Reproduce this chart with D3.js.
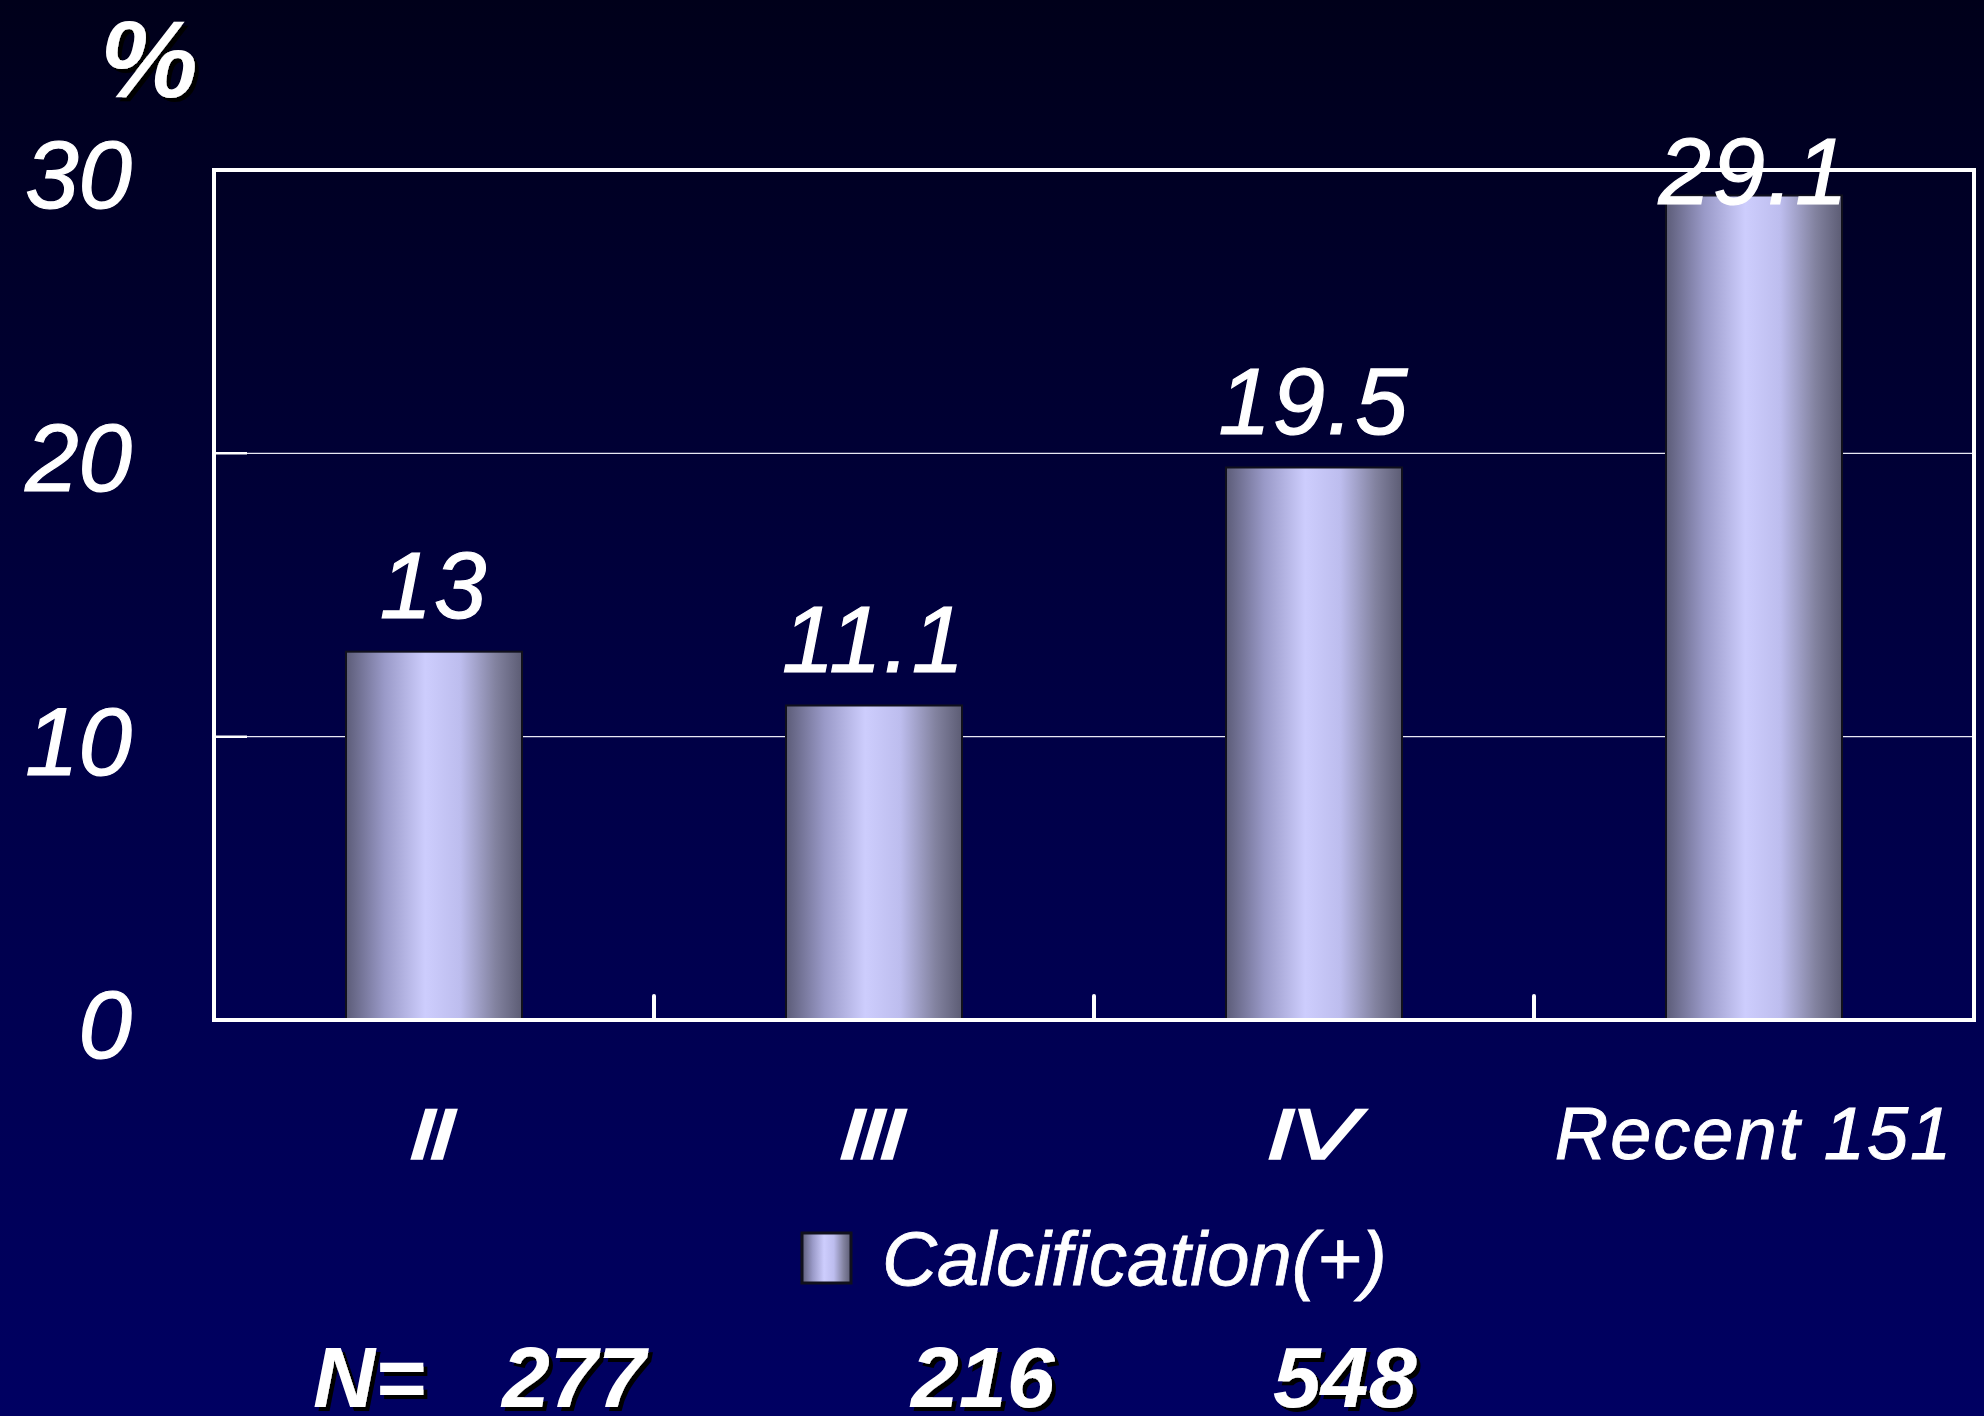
<!DOCTYPE html>
<html lang="ja">
<head>
<meta charset="UTF-8">
<title>Calcification(+)</title>
<script src="https://cdn.jsdelivr.net/npm/d3@7/dist/d3.min.js"></script>
<style>
  html, body { margin: 0; padding: 0; background: #000040; }
  svg { display: block; }
  text { font-family: "Liberation Sans", Arial, sans-serif; fill: #fff; }
</style>
</head>
<body>
<div id="chart"></div>
<script>
// data
const categories = ["Ⅱ", "Ⅲ", "Ⅳ", "Recent 151"];
const calcification = [13, 11.1, 19.5, 29.1];
const yTicks = [0, 10, 20, 30];
const nLabels = ["N=", "277", "216", "548"];
const seriesName = "Calcification(+)";

const width = 1984, height = 1416;
const plot = { left: 214, right: 1974, top: 170, bottom: 1020 };

const svg = d3.select("#chart").append("svg")
  .attr("width", width).attr("height", height);

const defs = svg.append("defs");

// page background
const bg = defs.append("linearGradient").attr("id", "bg")
  .attr("x1", 0).attr("y1", 0).attr("x2", 0).attr("y2", 1);
bg.append("stop").attr("offset", "0%").attr("stop-color", "#00001a");
bg.append("stop").attr("offset", "55%").attr("stop-color", "#000048");
bg.append("stop").attr("offset", "100%").attr("stop-color", "#000062");

// cylinder-ish bar fill
const barGrad = defs.append("linearGradient").attr("id", "barGrad")
  .attr("x1", 0).attr("y1", 0).attr("x2", 1).attr("y2", 0);
[["0%", "#5c5c78"], ["22%", "#9a9ac8"], ["45%", "#cdcdfd"], ["65%", "#bdbdee"],
 ["85%", "#82829f"], ["100%", "#5c5c74"]].forEach(([o, c]) =>
  barGrad.append("stop").attr("offset", o).attr("stop-color", c));

// hard black drop shadow for the bold texts
const shadow = defs.append("filter").attr("id", "shadow")
  .attr("x", "-10%").attr("y", "-10%").attr("width", "130%").attr("height", "130%");
shadow.append("feDropShadow")
  .attr("dx", 4).attr("dy", 4).attr("stdDeviation", 0)
  .attr("flood-color", "#000").attr("flood-opacity", 1);

svg.append("rect").attr("width", width).attr("height", height).attr("fill", "url(#bg)");

const x = d3.scaleBand()
  .domain(categories)
  .range([plot.left, plot.right])
  .paddingInner(0.6)
  .paddingOuter(0.3);

const y = d3.scaleLinear()
  .domain([0, 30])
  .range([plot.bottom, plot.top]);

// gridlines
svg.append("g").selectAll("line")
  .data(yTicks.filter(t => t > 0 && t < 30))
  .join("line")
  .attr("x1", plot.left).attr("x2", plot.right)
  .attr("y1", d => y(d)).attr("y2", d => y(d))
  .attr("stroke", "#e8e8f4").attr("stroke-width", 1.2);

// inner tick marks on the value axis
svg.append("g").selectAll("line")
  .data(yTicks.filter(t => t > 0 && t < 30))
  .join("line")
  .attr("x1", plot.left).attr("x2", plot.left + 33)
  .attr("y1", d => y(d)).attr("y2", d => y(d))
  .attr("stroke", "#fff").attr("stroke-width", 2.5);

// value axis labels
svg.append("g").selectAll("text")
  .data(yTicks)
  .join("text")
  .attr("x", 132)
  .attr("y", d => y(d) + 38)
  .attr("text-anchor", "end")
  .attr("font-size", 96)
  .attr("font-style", "italic")
  .attr("stroke", "#fff").attr("stroke-width", 1.2)
  .text(d => d);

// bars
svg.append("g").selectAll("rect")
  .data(calcification)
  .join("rect")
  .attr("x", (d, i) => x(categories[i]))
  .attr("y", d => y(d))
  .attr("width", x.bandwidth())
  .attr("height", d => y(0) - y(d))
  .attr("fill", "url(#barGrad)")
  .attr("stroke", "#10101c")
  .attr("stroke-width", 2);

// plot frame
svg.append("rect")
  .attr("x", plot.left).attr("y", plot.top)
  .attr("width", plot.right - plot.left)
  .attr("height", plot.bottom - plot.top)
  .attr("fill", "none")
  .attr("stroke", "#fff").attr("stroke-width", 4);

// category separators on the bottom axis
const seps = categories.slice(1).map((c, i) =>
  (x(categories[i]) + x.bandwidth() + x(c)) / 2);
svg.append("g").selectAll("line")
  .data(seps)
  .join("line")
  .attr("x1", d => d).attr("x2", d => d)
  .attr("y1", plot.bottom).attr("y2", plot.bottom - 24)
  .attr("stroke", "#fff").attr("stroke-width", 4)
  .attr("stroke-linecap", "round");

// value labels
svg.append("g").selectAll("text")
  .data(calcification)
  .join("text")
  .attr("x", (d, i) => x(categories[i]) + x.bandwidth() / 2)
  .attr("y", d => Math.max(y(d) - 34, 204))
  .attr("text-anchor", "middle")
  .attr("font-size", 94)
  .attr("font-style", "italic")
  .attr("letter-spacing", 2)
  .attr("stroke", "#fff").attr("stroke-width", 1.2)
  .text(d => d);

// category labels (roman numerals are drawn wider, like the full-width glyphs)
const isRoman = d => d.length === 1;
svg.append("g").selectAll("g")
  .data(categories)
  .join("g")
  .attr("transform", d => `translate(${x(d) + x.bandwidth() / 2},1159) scale(${isRoman(d) ? 1.5 : 1},1)`)
  .append("text")
  .attr("text-anchor", "middle")
  .attr("font-style", d => isRoman(d) ? "oblique" : "italic")
  .attr("font-size", d => isRoman(d) ? 68 : 74)
  .attr("letter-spacing", d => isRoman(d) ? 0 : 2)
  .attr("stroke", "#fff").attr("stroke-width", d => isRoman(d) ? 1.5 : 1)
  .style("font-family", d => isRoman(d)
    ? "'DejaVu Sans', 'Noto Sans CJK JP', sans-serif"
    : "'Liberation Sans', Arial, sans-serif")
  .text(d => d);

// legend
const legend = svg.append("g").attr("transform", "translate(802,1233)");
legend.append("rect")
  .attr("width", 49).attr("height", 50)
  .attr("fill", "url(#barGrad)")
  .attr("stroke", "#10101c").attr("stroke-width", 3);
legend.append("text")
  .attr("x", 80).attr("y", 52)
  .attr("font-size", 76)
  .attr("font-style", "italic")
  .attr("stroke", "#fff").attr("stroke-width", 0.8)
  .text(seriesName);

// "%" unit label
svg.append("text")
  .attr("x", 100).attr("y", 97)
  .attr("font-size", 110)
  .attr("font-weight", "bold")
  .attr("font-style", "italic")
  .attr("filter", "url(#shadow)")
  .text("%");

// N row
const nX = [313, 502, 911, 1273];
svg.append("g").selectAll("text")
  .data(nLabels)
  .join("text")
  .attr("x", (d, i) => nX[i])
  .attr("y", 1407)
  .attr("font-size", 86)
  .attr("font-weight", "bold")
  .attr("font-style", "italic")
  .attr("filter", "url(#shadow)")
  .text(d => d);
</script>
</body>
</html>
